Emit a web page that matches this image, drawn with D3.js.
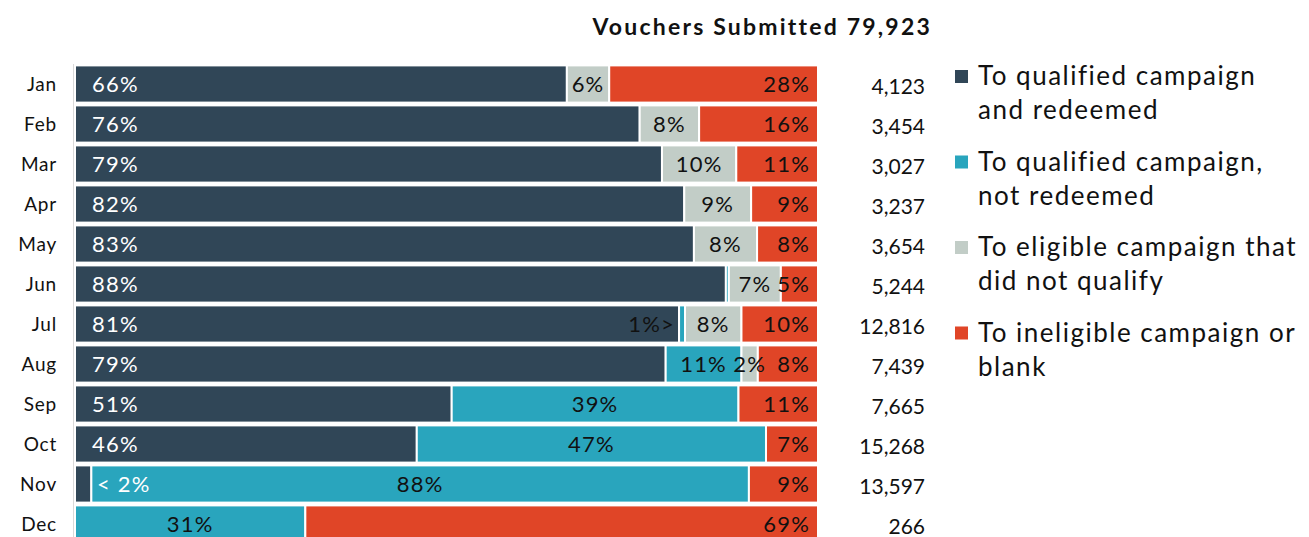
<!DOCTYPE html>
<html>
<head>
<meta charset="utf-8">
<script src="https://cdn.jsdelivr.net/npm/d3@7"></script>
<style>
    body { margin: 0; background: #fff; }
    svg { display: block; font-family: Lato, "Open Sans", sans-serif; }
</style>
</head>
<body>
<svg id="chart" width="1309" height="537"></svg>
<script>
    var months = ["Jan", "Feb", "Mar", "Apr", "May", "Jun", "Jul", "Aug", "Sep", "Oct", "Nov", "Dec"];
    var totals = ["4,123", "3,454", "3,027", "3,237", "3,654", "5,244", "12,816", "7,439", "7,665", "15,268", "13,597", "266"];

    // share of vouchers per month (%)
    var redeemed     = [66.2, 76, 79, 82, 83.3, 87.6, 81.3, 79.5, 50.7, 46, 2.2, 0];
    var notRedeemed  = [0, 0, 0, 0, 0, 0.4, 0.8, 10.2, 38.6, 47, 88.5, 31];
    var notQualified = [5.7, 8, 10, 9, 8.5, 7, 7.6, 2.2, 0, 0, 0, 0];
    var ineligible   = [28.1, 16, 11, 9, 8.2, 5, 10.3, 8.1, 10.7, 7, 9.3, 69];

    var redeemedLbl     = ["66%", "76%", "79%", "82%", "83%", "88%", "81%", "79%", "51%", "46%", "< 2%", ""];
    var notRedeemedLbl  = ["", "", "", "", "", "", "1%>", "11%", "39%", "47%", "88%", "31%"];
    var notQualifiedLbl = ["6%", "8%", "10%", "9%", "8%", "7%", "8%", "2%", "", "", "", ""];
    var ineligibleLbl   = ["28%", "16%", "11%", "9%", "8%", "5%", "10%", "8%", "11%", "7%", "9%", "69%"];

    var title = "Vouchers Submitted 79,923";
    var legendNames = [
        ["To qualified campaign", "and redeemed"],
        ["To qualified campaign,", "not redeemed"],
        ["To eligible campaign that", "did not qualify"],
        ["To ineligible campaign or", "blank"]
    ];
    var colors = ["#304657", "#29a5bd", "#c2cdc7", "#e04527"];

    var svg = d3.select("#chart");

    var x = d3.scaleLinear().domain([0, 100]).range([75, 818]);
    var y = d3.scaleBand().domain(months).range([64, 544]).paddingInner(0.07).paddingOuter(0.035);

    var series = [redeemed, notRedeemed, notQualified, ineligible];
    var labels = [redeemedLbl, notRedeemedLbl, notQualifiedLbl, ineligibleLbl];

    var rows = months.map(function (m, i) {
        var row = {month: m};
        series.forEach(function (s, k) { row["s" + k] = s[i]; });
        return row;
    });

    var stack = d3.stack().keys(["s0", "s1", "s2", "s3"]);
    var stacked = stack(rows);

    // axis line on the left
    svg.append("line")
        .attr("x1", 73.5).attr("x2", 73.5)
        .attr("y1", 64).attr("y2", 537)
        .attr("stroke", "#d9d9d9")
        .attr("stroke-width", 1);

    var layers = svg.append("g").selectAll("g")
        .data(stacked)
        .enter().append("g")
        .attr("fill", function (d, k) { return colors[k]; });

    layers.selectAll("rect")
        .data(function (d) { return d; })
        .enter().append("rect")
        .attr("x", function (d) { return x(d[0]); })
        .attr("y", function (d) { return y(d.data.month); })
        .attr("width", function (d) { return Math.max(0, x(d[1]) - x(d[0])); })
        .attr("height", y.bandwidth())
        .attr("stroke", "#fff")
        .attr("stroke-width", 2);

    // segment labels
    stacked.forEach(function (layer, k) {
        layer.forEach(function (d, i) {
            var txt = labels[k][i];
            if (!txt) return;
            var x0 = x(d[0]), x1 = x(d[1]);
            var tx, anchor, fill = "#111";
            if (k === 0) {
                tx = x0 + 17; anchor = "start"; fill = "#fff";
                if (txt.indexOf("<") === 0) tx = x0 + 22;
            } else if (k === 3) {
                tx = x1 - 8; anchor = "end";
            } else if (x1 - x0 < 15 && k === 1) {
                tx = x0 - 4; anchor = "end";
            } else {
                tx = (x0 + x1) / 2; anchor = "middle";
            }
            svg.append("text")
                .attr("x", tx)
                .attr("y", y(months[i]) + y.bandwidth() / 2)
                .attr("dy", "0.36em")
                .attr("text-anchor", anchor)
                .attr("fill", fill)
                .attr("font-size", 22)
                .attr("letter-spacing", 1.2)
                .text(txt);
        });
    });

    // month labels
    svg.append("g").selectAll("text")
        .data(months)
        .enter().append("text")
        .attr("x", 57)
        .attr("y", function (d) { return y(d) + y.bandwidth() / 2; })
        .attr("dy", "0.36em")
        .attr("text-anchor", "end")
        .attr("font-size", 19)
        .attr("letter-spacing", 0.8)
        .attr("fill", "#111")
        .text(function (d) { return d; });

    // totals
    svg.append("g").selectAll("text")
        .data(totals)
        .enter().append("text")
        .attr("x", 925)
        .attr("y", function (d, i) { return y(months[i]) + y.bandwidth() / 2 + 3; })
        .attr("dy", "0.34em")
        .attr("text-anchor", "end")
        .attr("font-size", 21)
        .attr("fill", "#111")
        .text(function (d) { return d; });

    svg.append("text")
        .attr("x", 932)
        .attr("y", 35)
        .attr("text-anchor", "end")
        .attr("font-size", 23)
        .attr("font-weight", "bold")
        .attr("letter-spacing", 2.2)
        .attr("fill", "#111")
        .text(title);

    // legend
    var legend = svg.append("g").selectAll("g")
        .data(legendNames)
        .enter().append("g")
        .attr("transform", function (d, k) { return "translate(955," + (76 + k * 85.5) + ")"; });

    legend.append("rect")
        .attr("x", 0).attr("y", -6)
        .attr("width", 13).attr("height", 13)
        .attr("fill", function (d, k) { return colors[k]; });

    legend.selectAll("text")
        .data(function (d) { return d; })
        .enter().append("text")
        .attr("x", 23)
        .attr("y", function (d, j) { return j * 34; })
        .attr("dy", "0.36em")
        .attr("font-size", 26)
        .attr("letter-spacing", 1.5)
        .attr("fill", "#111")
        .text(function (d) { return d; });
</script>
</body>
</html>
